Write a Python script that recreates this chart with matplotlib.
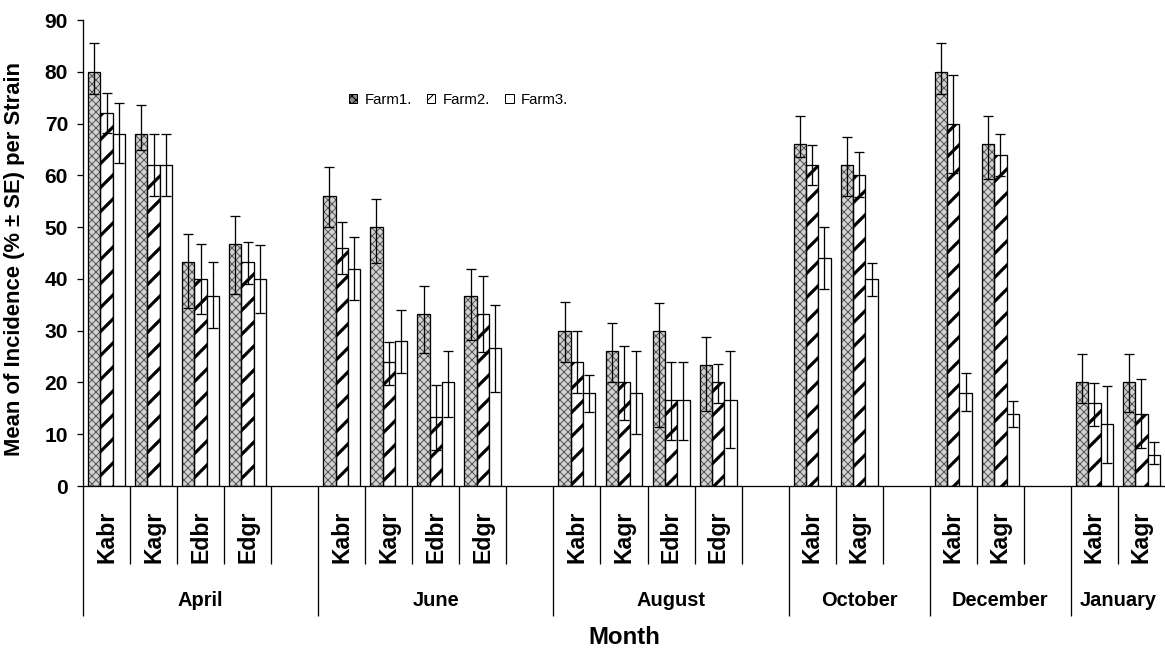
import matplotlib
matplotlib.use("Agg")
import matplotlib.pyplot as plt
from matplotlib.patches import Patch
from matplotlib.transforms import blended_transform_factory

plt.rcParams['font.family'] = ['Liberation Sans', 'DejaVu Sans']

# ---- data -------------------------------------------------------------
months = ['April', 'June', 'August', 'October', 'December', 'January']
strains = [
    ['Kabr', 'Kagr', 'Edbr', 'Edgr'],
    ['Kabr', 'Kagr', 'Edbr', 'Edgr'],
    ['Kabr', 'Kagr', 'Edbr', 'Edgr'],
    ['Kabr', 'Kagr'],
    ['Kabr', 'Kagr'],
    ['Kabr', 'Kagr'],
]
farm_labels = ['Farm1.', 'Farm2.', 'Farm3.']

farm1 = [80, 68, 43.3, 46.7, 56, 50, 33.3, 36.7, 30, 26, 30, 23.3, 66, 62, 80, 66, 20, 20]
farm2 = [72, 62, 40, 43.3, 46, 24, 13.3, 33.3, 24, 20, 16.7, 20, 62, 60, 70, 64, 16, 14]
farm3 = [68, 62, 36.7, 40, 42, 28, 20, 26.7, 18, 18, 16.7, 16.7, 44, 40, 18, 14, 12, 6]

farm1_err_up = [5.6, 5.6, 5.3, 5.5, 5.7, 5.5, 5.4, 5.3, 5.5, 5.5, 5.4, 5.4, 5.5, 5.5, 5.6, 5.5, 5.5, 5.5]
farm1_err_dn = [4.2, 3.2, 8.9, 9.6, 6.0, 7.0, 7.6, 8.5, 6.0, 6.0, 18.6, 8.8, 2.4, 6.0, 4.2, 6.7, 4.0, 5.7]
farm2_err_up = [3.9, 6.0, 6.7, 3.8, 5.0, 3.8, 6.3, 7.2, 6.0, 7.0, 7.3, 3.5, 3.8, 4.5, 9.3, 3.9, 3.9, 6.6]
farm2_err_dn = [3.9, 6.0, 6.7, 4.2, 5.0, 4.4, 6.4, 7.5, 6.0, 7.2, 7.9, 4.0, 3.9, 4.2, 9.6, 4.2, 4.4, 6.7]
farm3_err_up = [6.0, 6.0, 6.5, 6.6, 6.0, 5.9, 6.1, 8.3, 3.5, 8.0, 7.3, 9.3, 6.0, 3.0, 3.9, 2.4, 7.3, 2.5]
farm3_err_dn = [5.7, 6.0, 6.2, 6.6, 6.1, 6.2, 6.6, 8.6, 3.8, 8.0, 7.9, 9.3, 6.0, 3.3, 3.5, 2.6, 7.5, 1.8]

# ---- category slots (one blank slot between months) --------------------
positions, names, month_spans = [], [], []
slot = 0
for m, (month, group) in enumerate(zip(months, strains)):
    start = slot
    for name in group:
        positions.append(slot)
        names.append(name)
        slot += 1
    if m < len(months) - 1:
        slot += 1
    month_spans.append((start, slot))
n_slots = slot

W, H = 1165, 650
fig = plt.figure(figsize=(W / 72, H / 72), dpi=72)
left_px, right_px, top_px, base_px = 83, 1165, 20, 486
ax = fig.add_axes([left_px / W, 1 - base_px / H,
                   (right_px - left_px) / W, (base_px - top_px) / H])
ax.set_xlim(-0.5, n_slots - 0.5)
ax.set_ylim(0, 90)

bw = 0.262
x1 = [p - bw for p in positions]
x2 = list(positions)
x3 = [p + bw for p in positions]
edge_lw = 1.3

# Farm1: fine grey cross pattern
with plt.rc_context({'hatch.linewidth': 1.0}):
    b1 = ax.bar(x1, farm1, bw, color='#d2d2d2', edgecolor='#555555',
                hatch='xxx', linewidth=0, zorder=2)
for p in b1:
    if hasattr(p, 'set_hatch_linewidth'):
        p.set_hatch_linewidth(1.0)
ax.bar(x1, farm1, bw, fill=False, edgecolor='black', linewidth=edge_lw, zorder=3)

# Farm2: bold diagonal stripes
with plt.rc_context({'hatch.linewidth': 3.2}):
    b2 = ax.bar(x2, farm2, bw, color='white', edgecolor='black',
                hatch='/', linewidth=edge_lw, zorder=2)
for p in b2:
    if hasattr(p, 'set_hatch_linewidth'):
        p.set_hatch_linewidth(3.2)

# Farm3: plain white
ax.bar(x3, farm3, bw, color='white', edgecolor='black', linewidth=edge_lw, zorder=2)

for xs, vals, dn, up in [(x1, farm1, farm1_err_dn, farm1_err_up),
                         (x2, farm2, farm2_err_dn, farm2_err_up),
                         (x3, farm3, farm3_err_dn, farm3_err_up)]:
    ax.errorbar(xs, vals, yerr=[dn, up], fmt='none', ecolor='black',
                elinewidth=1.3, capsize=5, capthick=1.3, zorder=5)

# ---- axes styling ---------------------------------------------------------
for s in ('top', 'right'):
    ax.spines[s].set_visible(False)
for s in ('left', 'bottom'):
    ax.spines[s].set_linewidth(1.3)
ax.set_xticks([])
ax.set_yticks(range(0, 91, 10))
ax.tick_params(axis='y', direction='out', length=6, width=1.3, pad=9, labelsize=21)
for t in ax.get_yticklabels():
    t.set_fontweight('bold')

# ---- two-level category axis ---------------------------------------------
def fy(px):
    return 1 - px / H

trans = blended_transform_factory(ax.transData, fig.transFigure)
month_starts = {s for s, _ in month_spans}
for b in range(n_slots):
    x = b - 0.5
    bottom = 616 if b in month_starts else 564
    ax.plot([x, x], [fy(base_px), fy(bottom)], transform=trans, color='black',
            lw=1.3, clip_on=False, solid_capstyle='butt')

for p, name in zip(positions, names):
    ax.text(p, fy(563), name, transform=trans, rotation=90, ha='center',
            va='bottom', fontsize=23, fontweight='bold')

for month, (s, e) in zip(months, month_spans):
    ax.text((s + e) / 2 - 0.5, fy(601), month, transform=trans, ha='center',
            va='center', fontsize=20, fontweight='bold')

fig.text((left_px + right_px) / 2 / W, fy(637), 'Month', ha='center', va='center',
         fontsize=24, fontweight='bold')
fig.text(15 / W, fy(259), 'Mean of Incidence (% \u00b1 SE) per Strain', rotation=90,
         ha='center', va='center', fontsize=22, fontweight='bold')

# ---- legend ---------------------------------------------------------------
handles = [
    Patch(facecolor='#8a8a8a', edgecolor='black', hatch='xxx', linewidth=1),
    Patch(facecolor='white', edgecolor='black', hatch='//', linewidth=1),
    Patch(facecolor='white', edgecolor='black', linewidth=1),
]
fig.legend(handles, farm_labels, loc='center left',
           bbox_to_anchor=(349 / W, fy(100)), ncol=3, frameon=False,
           fontsize=15, handlelength=0.55, handleheight=0.55,
           handletextpad=0.5, columnspacing=1.0, borderpad=0, borderaxespad=0)

fig.savefig('out.png', dpi=72)
